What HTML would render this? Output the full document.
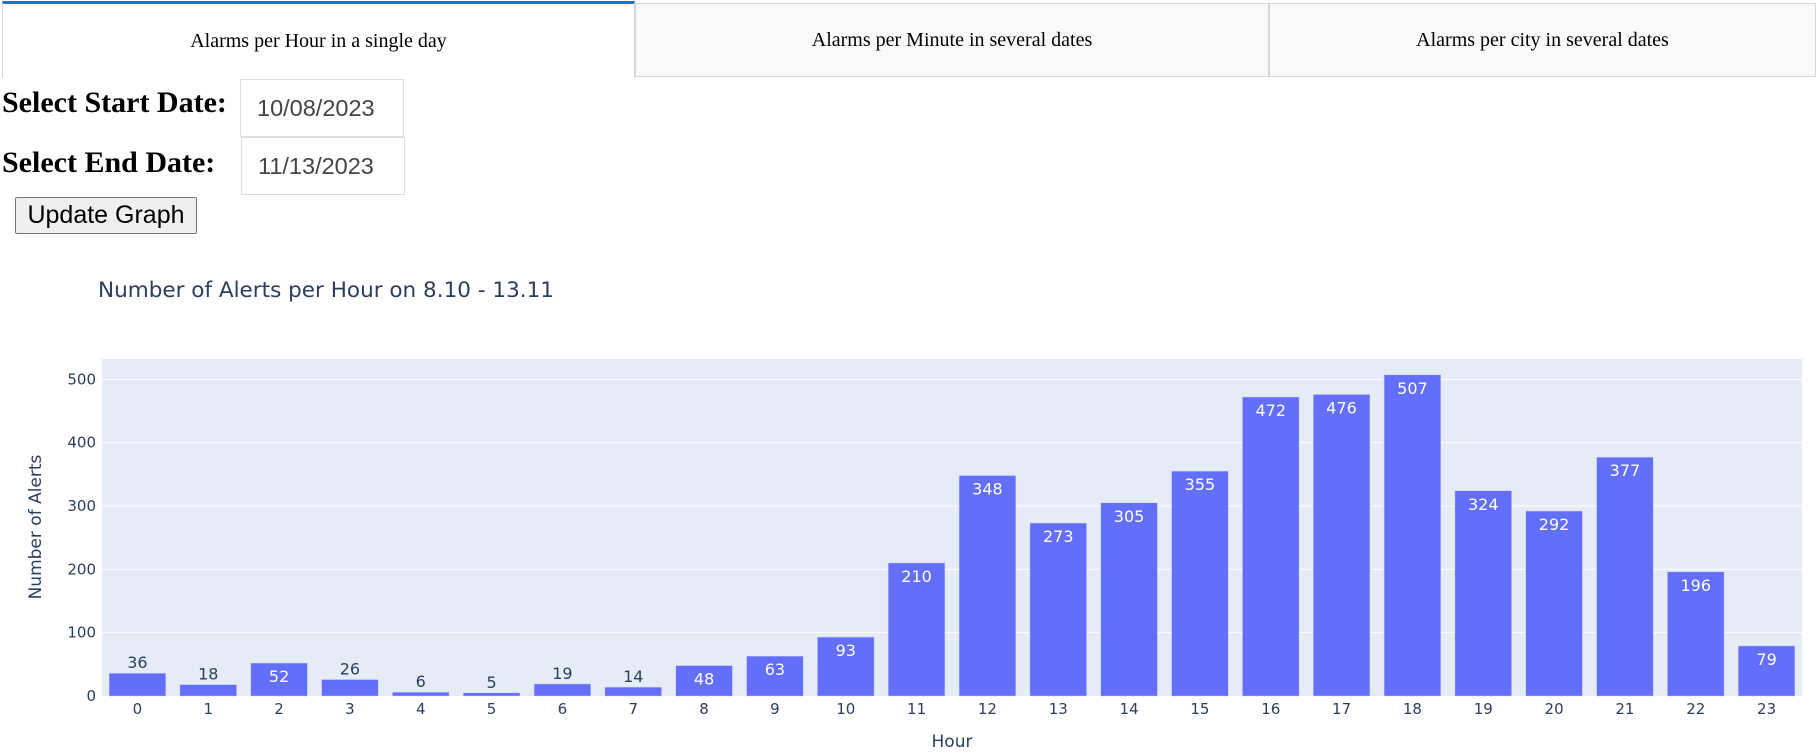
<!DOCTYPE html>
<html><head><meta charset="utf-8"><style>
body{margin:0;width:1816px;height:756px;background:#fff;position:relative;overflow:hidden;font-family:"Liberation Serif",serif}
.tab{position:absolute;top:3px;height:74px;box-sizing:border-box;border:1px solid #d6d6d6;background:#f9f9f9;font-size:20px;display:flex;align-items:center;justify-content:center;color:#000}
.lbl{position:absolute;left:2px;font-weight:bold;font-size:30px;color:#000;line-height:1}
.inp{position:absolute;box-sizing:border-box;border:1px solid #ddd;font-family:"Liberation Sans",sans-serif;font-size:23.5px;color:#444;padding-left:16px;display:flex;align-items:center;background:#fff}
</style></head><body>
<div class="tab" style="left:2px;width:633px;background:#fff;border-bottom:none;border-top:3px solid #1975d2;top:1px;height:77px">Alarms per Hour in a single day</div>
<div class="tab" style="left:635px;width:634px">Alarms per Minute in several dates</div>
<div class="tab" style="left:1269px;width:547px">Alarms per city in several dates</div>
<div class="lbl" style="top:88px">Select Start Date:</div>
<div class="inp" style="left:240px;top:79px;width:164px;height:58px">10/08/2023</div>
<div class="lbl" style="top:148px">Select End Date:</div>
<div class="inp" style="left:241px;top:137px;width:164px;height:58px">11/13/2023</div>
<button style="position:absolute;left:15px;top:197px;width:182px;height:37px;font-family:'Liberation Sans',sans-serif;font-size:25px;padding:0;background:#efefef;border:1px solid #767676;border-radius:2px;color:#000">Update Graph</button>
<svg id="chart" width="1816" height="756" style="position:absolute;left:0;top:0;pointer-events:none" font-family="DejaVu Sans, sans-serif"></svg>
<script>
const categories=["0","1","2","3","4","5","6","7","8","9","10","11","12","13","14","15","16","17","18","19","20","21","22","23"];
const values=[36,18,52,26,6,5,19,14,48,63,93,210,348,273,305,355,472,476,507,324,292,377,196,79];
const yTicks=[0,100,200,300,400,500];
const NS="http://www.w3.org/2000/svg";
const svg=document.getElementById('chart');
const L=102,R=1802,T=359,B=696,YMAX=532;
const step=(R-L)/categories.length;
const xc=i=>L+step*(i+0.5);
const y=v=>B-(v/YMAX)*(B-T);
function mk(tag,attrs,txt){const e=document.createElementNS(NS,tag);for(const k in attrs)e.setAttribute(k,attrs[k]);if(txt!==undefined)e.textContent=txt;svg.appendChild(e);return e;}
let e=mk('rect',{x:L,y:T,width:R-L,height:B-T,fill:'#e5ecf6'});


yTicks.forEach(t=>{
 if(t>0){const g=mk('line',{x1:L,x2:R,y1:y(t),y2:y(t),stroke:'#fff','stroke-width':1});
 
 }
 const lb=mk('text',{x:L-6,y:y(t)+5,'text-anchor':'end','font-size':15,fill:'#2a3f5f'},String(t));
 
 
});
const bw=step*0.8;
values.forEach((v,i)=>{
 const b=mk('rect',{x:xc(i)-bw/2,y:y(v),width:bw,height:B-y(v),fill:'#636efa',stroke:'#c8cff8','stroke-width':0.5});
 
 
 const h=B-y(v);
 let t;
 if(h>=28){t=mk('text',{x:xc(i),y:y(v)+19,'text-anchor':'middle','font-size':16,fill:'#fff'},String(v));}
 else{t=mk('text',{x:xc(i),y:y(v)-5,'text-anchor':'middle','font-size':16,fill:'#2a3f5f'},String(v));}
 
 
 const xl=mk('text',{x:xc(i),y:714,'text-anchor':'middle','font-size':15,fill:'#2a3f5f'},categories[i]);
 
 
});
e=mk('text',{x:952,y:747,'text-anchor':'middle','font-size':17,fill:'#2a3f5f'},'Hour');


e=mk('text',{x:41,y:527,'text-anchor':'middle','font-size':17,fill:'#2a3f5f',transform:'rotate(-90 41 527)'},'Number of Alerts');


e=mk('text',{x:98,y:297,'font-size':21,fill:'#2a3f5f',textLength:456,lengthAdjust:'spacingAndGlyphs'},'Number of Alerts per Hour on 8.10 - 13.11');


</script>
</body></html>
